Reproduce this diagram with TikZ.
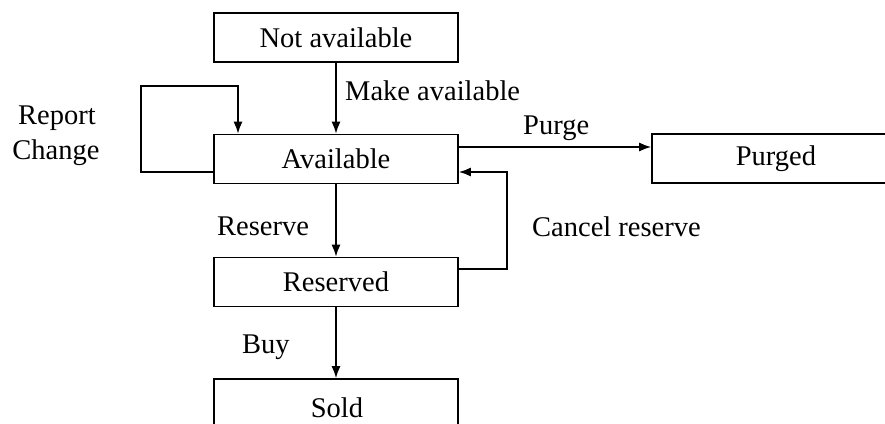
\documentclass[tikz,border=0pt]{standalone}
\usepackage{fontspec}
\setmainfont{Liberation Serif}
\usetikzlibrary{arrows.meta}
\begin{document}
\begin{tikzpicture}[x=1pt,y=-1pt,
  state/.style={draw, line width=1.6pt, rectangle, minimum width=244pt, minimum height=49pt, inner sep=0pt, font=\fontsize{28.5}{31}\selectfont},
  lbl/.style={inner sep=0pt, font=\fontsize{28.5}{31}\selectfont},
  arr/.style={line width=1.6pt, -{Latex[length=12pt,width=9pt]}},
  conn/.style={line width=1.6pt}]
\useasboundingbox (0,0) rectangle (885,423);
\clip (0,0) rectangle (885,423);
\node[state] (na) at (336,37.5) {Not available};
\node[state] (av) at (336,159) {Available};
\node[state] (rs) at (336,282) {Reserved};
\node[state, minimum height=50pt] (sd) at (336,404) {};
\node[lbl] (sdt) at (337,408) {Sold};
\node[state, minimum width=242pt] (pg) at (773,158.5) {};
\node[lbl] (pgt) at (776,158.5) {Purged};
\coordinate (rl) at (141,86);
\coordinate (cr) at (507,220);
\draw[arr] (na.south) -- (av.north);
\draw[arr] ([yshift=-13pt]av.west) -| (rl) -| ([xshift=-98pt]av.north);
\draw[arr] ([yshift=12pt]av.east) -- ([yshift=12pt]av.east -| pg.west);
\draw[arr] (av.south) -- (rs.north);
\draw[arr] ([yshift=13pt]rs.east) -| (cr) |- ([yshift=-13pt]av.east);
\draw[arr] (rs.south) -- (sd.north);
\node[lbl, anchor=west] (l1) at (345,91) {Make available};
\node[lbl, anchor=west] (l2) at (523,128) {Purge};
\node[lbl, anchor=west] (l3) at (532,227) {Cancel reserve};
\node[lbl, anchor=west] (l4) at (217,226) {Reserve};
\node[lbl, anchor=west] (l5) at (242,347) {Buy};
\node[lbl] (l6) at (57,118) {Report};
\node[lbl] (l7) at (56,153) {Change};
\end{tikzpicture}
\end{document}
